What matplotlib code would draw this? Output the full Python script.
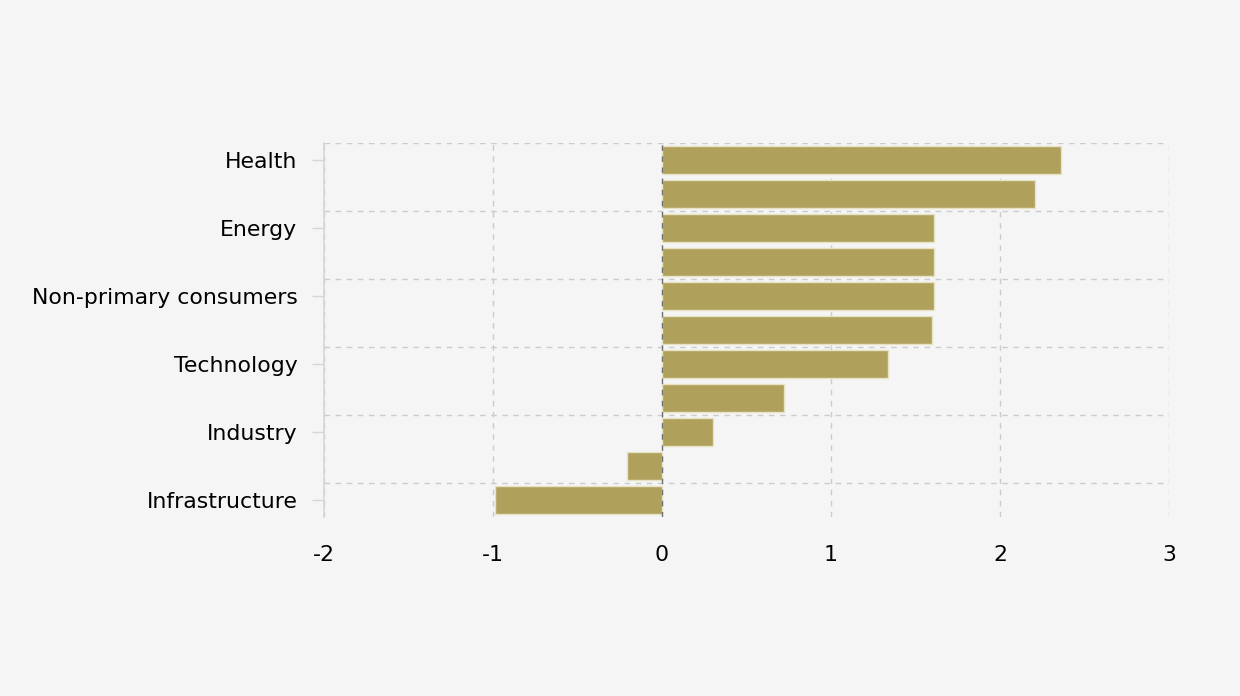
import matplotlib
matplotlib.use("Agg")
import matplotlib.pyplot as plt
import numpy as np

# sector values, top to bottom; only every other bar carries a label
categories = ["Health", "", "Energy", "", "Non-primary consumers", "",
              "Technology", "", "Industry", "", "Infrastructure"]
values = [2.36, 2.21, 1.61, 1.61, 1.61, 1.60, 1.34, 0.72, 0.30, -0.21, -0.99]
x_ticks = [-2, -1, 0, 1, 2, 3]

BG = "#f5f5f5"
BAR = "#afa15b"
GRID = "#cccccc"

fig = plt.figure(figsize=(12.4, 6.96), dpi=100, facecolor=BG)
ax = fig.add_axes([324 / 1240, (696 - 517) / 696, (1169 - 324) / 1240, (517 - 143) / 696])
ax.set_facecolor(BG)

n = len(values)
ypos = np.arange(n) + 0.5
ax.barh(ypos, values, height=0.82, color=BAR, edgecolor="#e8e2c4", linewidth=1, zorder=2)

ax.set_xlim(x_ticks[0], x_ticks[-1])
ax.set_ylim(n, 0)

# grid: horizontal lines at top of each labelled band, vertical at ticks
for i in range(0, n, 2):
    ax.axhline(i, color=GRID, linestyle=(0, (4, 4)), linewidth=1, zorder=1)
for xv in x_ticks:
    if xv == 0:
        continue
    ax.axvline(xv, color=GRID, linestyle=(0, (4, 4)), linewidth=1, zorder=1)
ax.axvline(0, color="#6f6f6f", linestyle=(0, (4, 4)), linewidth=1, zorder=3)

labelled = [i for i, c in enumerate(categories) if c]
ax.set_yticks(ypos[labelled])
ax.set_yticklabels([categories[i] for i in labelled], fontsize=15.8)
ax.set_xticks(x_ticks)
ax.set_xticklabels([str(v) for v in x_ticks], fontsize=15.8)

ax.tick_params(axis="y", length=8.6, width=1, color="#d6d6d6", pad=10.5)
ax.tick_params(axis="x", length=0, pad=20)

for side in ["top", "right", "bottom"]:
    ax.spines[side].set_visible(False)
ax.spines["left"].set_color("#d6d6d6")
ax.spines["left"].set_linewidth(1.2)

fig.savefig("out.png", dpi=100, facecolor=BG)
